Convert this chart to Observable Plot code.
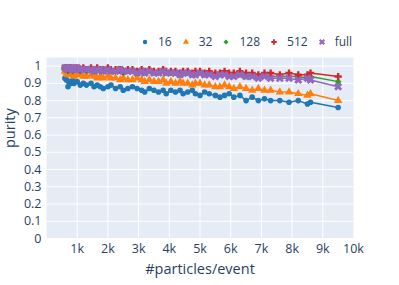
<!DOCTYPE html>
<html><head><meta charset="utf-8">
<script src="https://cdn.jsdelivr.net/npm/d3@7"></script>
<script src="https://cdn.jsdelivr.net/npm/@observablehq/plot@0.6"></script>
<style>
body{margin:0;background:#fff;font-family:"Open Sans",sans-serif;}
#wrap{position:relative;width:399px;height:285px;}
#legend{position:absolute;top:34px;left:141px;display:flex;align-items:center;font-size:12px;color:#2a3f5f;z-index:2;line-height:16px;}
#legend .it{display:flex;align-items:center;margin-right:10px;}
#legend svg{margin-right:9px;}
</style></head><body>
<div id="wrap"><div id="legend"></div></div>
<script>
const series = ["16","32","128","512","full"];
const colors = ["#1f77b4","#ff7f0e","#2ca02c","#d62728","#9467bd"];
const particles = [600,650,700,750,800,850,900,1000,1100,1200,1300,1450,1550,1650,1750,1850,2000,2100,2250,2400,2500,2650,2800,2950,3100,3200,3350,3500,3650,3800,3900,4050,4200,4350,4450,4600,4750,4850,5000,5150,5300,5500,5650,5800,5950,6100,6300,6500,6700,6900,7100,7300,7600,7900,8200,8500,8600,9500];
const purity16 = [0.93,0.92,0.88,0.91,0.90,0.92,0.90,0.91,0.89,0.90,0.89,0.90,0.88,0.89,0.88,0.87,0.88,0.89,0.87,0.88,0.86,0.87,0.88,0.87,0.86,0.85,0.87,0.86,0.85,0.86,0.84,0.86,0.85,0.86,0.84,0.85,0.86,0.84,0.83,0.85,0.84,0.83,0.82,0.83,0.84,0.82,0.83,0.80,0.82,0.80,0.81,0.80,0.80,0.79,0.80,0.78,0.79,0.76];
const purity32 = [0.97,0.96,0.95,0.96,0.96,0.95,0.94,0.95,0.95,0.94,0.94,0.95,0.94,0.93,0.94,0.93,0.94,0.93,0.93,0.92,0.93,0.92,0.92,0.93,0.92,0.91,0.92,0.91,0.91,0.92,0.90,0.91,0.90,0.91,0.90,0.90,0.89,0.90,0.90,0.89,0.89,0.88,0.88,0.89,0.88,0.87,0.88,0.87,0.86,0.87,0.86,0.86,0.85,0.85,0.84,0.83,0.84,0.80];
const purity128 = [0.98,0.98,0.97,0.98,0.98,0.97,0.98,0.98,0.97,0.98,0.97,0.98,0.97,0.98,0.97,0.97,0.98,0.97,0.97,0.97,0.96,0.97,0.97,0.96,0.97,0.96,0.97,0.96,0.96,0.97,0.96,0.96,0.96,0.95,0.96,0.96,0.95,0.96,0.96,0.95,0.96,0.95,0.95,0.96,0.95,0.95,0.95,0.94,0.95,0.94,0.95,0.94,0.94,0.94,0.94,0.93,0.94,0.91];
const purity512 = [0.99,0.99,0.98,0.99,0.99,0.98,0.99,0.99,0.98,0.99,0.98,0.99,0.98,0.99,0.98,0.98,0.99,0.98,0.98,0.98,0.97,0.98,0.98,0.97,0.98,0.97,0.98,0.97,0.97,0.98,0.97,0.97,0.97,0.96,0.97,0.97,0.96,0.97,0.97,0.96,0.97,0.96,0.96,0.97,0.96,0.96,0.97,0.96,0.96,0.95,0.96,0.96,0.95,0.96,0.95,0.95,0.96,0.94];
const purityFull = [0.99,0.99,0.98,0.99,0.99,0.98,0.98,0.99,0.98,0.98,0.98,0.98,0.97,0.98,0.98,0.97,0.98,0.97,0.97,0.98,0.97,0.97,0.97,0.96,0.97,0.96,0.97,0.96,0.96,0.97,0.96,0.96,0.96,0.95,0.96,0.96,0.95,0.95,0.96,0.95,0.95,0.94,0.95,0.95,0.94,0.94,0.95,0.94,0.94,0.93,0.94,0.93,0.93,0.93,0.92,0.93,0.92,0.88];
const yTicks = [0,0.1,0.2,0.3,0.4,0.5,0.6,0.7,0.8,0.9,1];
const xTicks = [1000,2000,3000,4000,5000,6000,7000,8000,9000,10000];

// filled "x" symbol (plus rotated 45°)
const symX = {draw(ctx, size){
  const r = Math.sqrt(size / 5) * 0.62;
  const L = r * 3;
  const c = Math.SQRT1_2;
  const pts = [[-r,-L],[r,-L],[r,-r],[L,-r],[L,r],[r,r],[r,L],[-r,L],[-r,r],[-L,r],[-L,-r],[-r,-r]];
  pts.forEach(([x,y],k)=>{ const X=(x-y)*c, Y=(x+y)*c; k?ctx.lineTo(X,Y):ctx.moveTo(X,Y); });
  ctx.closePath();
}};
const symbols = [d3.symbolCircle, d3.symbolTriangle, d3.symbolDiamond2, d3.symbolCross, symX];
const radii = [2.8, 3.1, 3.0, 3.0, 2.9];
const legendRadii = [2.2, 2.3, 2.3, 2.3, 2.2];

const allY = [purity16, purity32, purity128, purity512, purityFull];
const data = [];
series.forEach((s,i)=>particles.forEach((x,j)=>data.push({s, x, y: allY[i][j]})));

const marks = [
  Plot.frame({fill:"#E5ECF6", stroke:null}),
  Plot.gridX(xTicks.slice(0,-1), {stroke:"#fff", strokeOpacity:1, strokeWidth:1}),
  Plot.gridY(yTicks, {stroke:"#fff", strokeOpacity:1, strokeWidth:1}),
];
series.forEach((s,i)=>{
  const d = data.filter(e=>e.s===s);
  marks.push(Plot.line(d, {x:"x", y:"y", stroke:colors[i], strokeWidth:1.5}));
  marks.push(Plot.dot(d, {x:"x", y:"y", fill:colors[i], stroke:null, symbol:symbols[i], r:radii[i]}));
});
marks.push(Plot.axisY(yTicks, {tickSize:0, tickPadding:5, fontSize:12.5, tickFormat:d=>String(+d.toFixed(1)), label:null, fill:"#2a3f5f"}));
marks.push(Plot.axisX(xTicks, {tickSize:0, tickPadding:6, fontSize:12.5, tickFormat:d=>(d/1000)+"k", label:null, fill:"#2a3f5f"}));
marks.push(Plot.text(["purity"], {frameAnchor:"left", dx:-36, rotate:-90, fontSize:14.5, fill:"#2a3f5f"}));
marks.push(Plot.text(["#particles/event"], {frameAnchor:"bottom", dy:35, fontSize:14.5, fill:"#2a3f5f"}));

const chart = Plot.plot({
  width:399, height:285,
  marginLeft:46, marginRight:46, marginTop:57, marginBottom:47,
  style:{fontFamily:"'Open Sans', sans-serif", background:"#fff", overflow:"visible"},
  x:{domain:[0,10000]},
  y:{domain:[0,1.05]},
  marks
});
document.getElementById("wrap").appendChild(chart);

// legend
const leg = d3.select("#legend");
series.forEach((s,i)=>{
  const it = leg.append("div").attr("class","it");
  const sv = it.append("svg").attr("width",8).attr("height",8);
  sv.append("path").attr("transform","translate(4,4)")
    .attr("d", d3.symbol(symbols[i], Math.PI*legendRadii[i]*legendRadii[i])())
    .attr("fill", colors[i]);
  it.append("span").text(s);
});
</script>
</body></html>
